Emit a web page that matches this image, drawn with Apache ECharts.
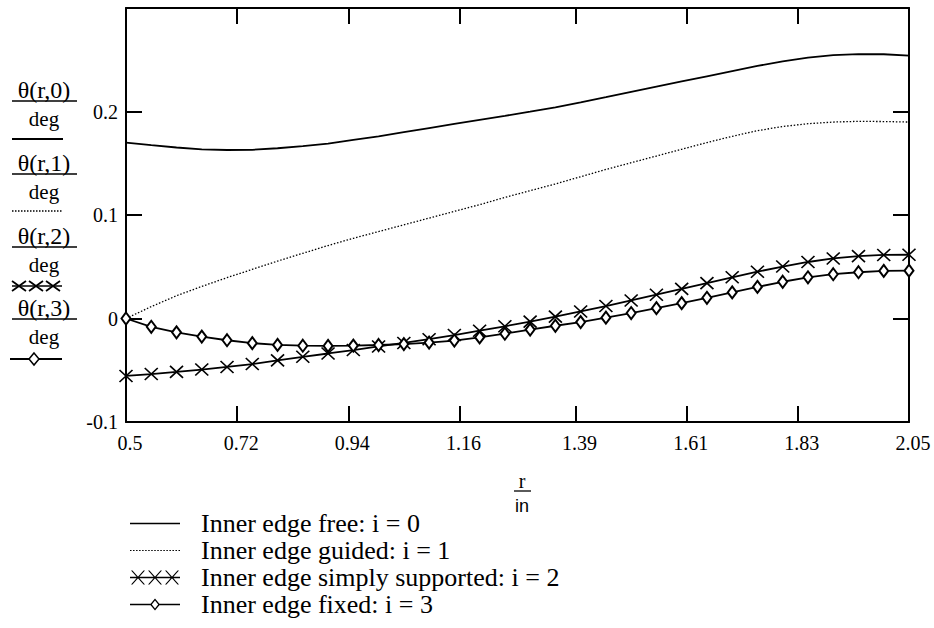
<!DOCTYPE html>
<html>
<head>
<meta charset="utf-8">
<title>θ(r,i) / deg</title>
<script src="https://cdn.jsdelivr.net/npm/echarts@6/dist/echarts.min.js"></script>
<style>
  html, body { margin: 0; padding: 0; background: #fff; }
  #chart { width: 934px; height: 628px; }
</style>
</head>
<body>
<div id="chart"></div>
<script>
// r / in
const rValues = [0.5, 0.55, 0.6, 0.65, 0.7, 0.75, 0.8, 0.85, 0.9, 0.95, 1.0, 1.05, 1.1, 1.15, 1.2, 1.25,
  1.3, 1.35, 1.4, 1.45, 1.5, 1.55, 1.6, 1.65, 1.7, 1.75, 1.8, 1.85, 1.9, 1.95, 2.0, 2.05];

// θ(r,i) / deg
const theta0 = [0.1700, 0.1675, 0.1652, 0.1635, 0.1628, 0.1630, 0.1645, 0.1665, 0.1690, 0.1725, 0.1760, 0.1800,
  0.1840, 0.1880, 0.1920, 0.1958, 0.1998, 0.2040, 0.2088, 0.2138, 0.2190, 0.2240, 0.2290, 0.2340, 0.2390, 0.2440,
  0.2485, 0.2520, 0.2545, 0.2555, 0.2553, 0.2540];
const theta1 = [0, 0.0115, 0.0220, 0.0310, 0.0395, 0.0475, 0.0555, 0.0630, 0.0705, 0.0775, 0.0840, 0.0905,
  0.0970, 0.1035, 0.1100, 0.1170, 0.1235, 0.1300, 0.1370, 0.1440, 0.1505, 0.1570, 0.1635, 0.1700, 0.1760, 0.1815,
  0.1855, 0.1882, 0.1898, 0.1905, 0.1903, 0.1898];
const theta2 = [-0.0555, -0.0537, -0.0516, -0.0493, -0.0468, -0.0440, -0.0405, -0.0370, -0.0338, -0.0305, -0.0270,
  -0.0236, -0.0200, -0.0160, -0.0118, -0.0075, -0.0030, 0.0018, 0.0068, 0.0120, 0.0174, 0.0230, 0.0286, 0.0342,
  0.0398, 0.0452, 0.0502, 0.0546, 0.0580, 0.0603, 0.0614, 0.0616];
const theta3 = [0, -0.0080, -0.0134, -0.0175, -0.0210, -0.0238, -0.0255, -0.0263, -0.0265, -0.0262, -0.0256,
  -0.0247, -0.0233, -0.0213, -0.0183, -0.0147, -0.0107, -0.0070, -0.0035, 0.0008, 0.0053, 0.0100, 0.0148, 0.0200,
  0.0252, 0.0305, 0.0355, 0.0398, 0.0428, 0.0447, 0.0460, 0.0462];

const xTicks = [0.5, 0.72, 0.94, 1.16, 1.39, 1.61, 1.83, 2.05];
const seriesNames = [
  'Inner edge free: i = 0',
  'Inner edge guided: i = 1',
  'Inner edge simply supported: i = 2',
  'Inner edge fixed: i = 3'
];
const yNames = ['θ(r,0)', 'θ(r,1)', 'θ(r,2)', 'θ(r,3)'];

const serif = '"Liberation Serif", "Times New Roman", serif';
const sans = '"Liberation Sans", Arial, sans-serif';

function pairs(ys) {
  return rValues.map((r, i) => [r, ys[i]]);
}

// legend icons, drawn in a 50 x 14 box
let dots = '';
for (let i = 0; i < 17; i++) {
  dots += 'M' + (i * 3) + ',6.4h1.5v1.2h-1.5Z';
}
let crosses = 'M0,6.3L50,6.3L50,7.7L0,7.7Z';
[8, 25, 42].forEach(c => {
  crosses += 'M' + (c - 7) + ',0L' + (c - 5.5) + ',0L' + (c + 7) + ',14L' + (c + 5.5) + ',14Z';
  crosses += 'M' + (c + 5.5) + ',0L' + (c + 7) + ',0L' + (c - 5.5) + ',14L' + (c - 7) + ',14Z';
});
const icons = [
  'path://M0,6.3L50,6.3L50,7.7L0,7.7Z',
  'path://' + dots,
  'path://' + crosses,
  'path://M0,6.3L20.6,6.3L20.6,7.7L0,7.7ZM29.4,6.3L50,6.3L50,7.7L29.4,7.7Z' +
    'M25,1L30,7L25,13L20,7ZM25,3L21.8,7L25,11L28.2,7Z'
];

// Mathcad style axis labels on the left
function txt(str, x, y, size, family) {
  return {
    type: 'text', x: x, y: y,
    style: { text: str, font: size + 'px ' + (family || serif), fill: '#000',
      align: 'center', verticalAlign: 'middle', textAlign: 'center', textVerticalAlign: 'middle' }
  };
}
function ln(x1, y1, x2, y2, w, dash) {
  return {
    type: 'line', shape: { x1: x1, y1: y1, x2: x2, y2: y2 },
    style: { stroke: '#000', lineWidth: w || 1.5, lineDash: dash || null }
  };
}

const sideTop = [90, 163, 236, 308];
const sideSample = [139, 211, 286, 359];
const graphics = [];
yNames.forEach((name, i) => {
  graphics.push(txt(name, 44, sideTop[i], 24));
  graphics.push(ln(12, sideTop[i] + 11, 77, sideTop[i] + 11, 1.5));
  graphics.push(txt('deg', 44, sideTop[i] + 29, 21));
});
graphics.push(ln(12, sideSample[0], 63, sideSample[0], 2));
graphics.push(ln(12, sideSample[1], 62, sideSample[1], 1.3, [1.5, 1.5]));
graphics.push(ln(12, sideSample[2], 62, sideSample[2], 1.5));
[19, 36, 53].forEach(c => {
  graphics.push(ln(c - 7, sideSample[2] - 5, c + 7, sideSample[2] + 5, 1.8));
  graphics.push(ln(c + 7, sideSample[2] - 5, c - 7, sideSample[2] + 5, 1.8));
});
graphics.push(ln(10, sideSample[3], 62, sideSample[3], 1.8));
graphics.push({
  type: 'polygon',
  shape: { points: [[34, sideSample[3] - 6], [39, sideSample[3]], [34, sideSample[3] + 6], [29, sideSample[3]]] },
  style: { fill: '#fff', stroke: '#000', lineWidth: 1.5 }
});

// x axis name r / in
graphics.push(txt('r', 522, 481, 20));
graphics.push(ln(514, 491, 531, 491, 1.3));
graphics.push(txt('in', 522, 506, 18, sans));

const chart = echarts.init(document.getElementById('chart'), null, { renderer: 'svg' });

const axisLine = { show: true, onZero: false, lineStyle: { color: '#000', width: 2 } };
const axisTick = { show: true, inside: true, length: 16, lineStyle: { color: '#000', width: 2 } };

chart.setOption({
  animation: false,
  backgroundColor: '#fff',
  grid: { left: 126, right: 25, top: 8, bottom: 206 },
  graphic: { elements: graphics },
  legend: {
    orient: 'vertical',
    left: 125,
    top: 505,
    itemWidth: 50,
    itemHeight: 14,
    itemGap: 0,
    selectedMode: false,
    textStyle: { fontFamily: serif, fontSize: 26, color: '#000', lineHeight: 27, padding: [0, 0, 0, 16] },
    data: seriesNames.map((name, i) => ({
      name: name,
      icon: icons[i],
      itemStyle: { color: '#000', borderWidth: 0 }
    }))
  },
  xAxis: [
    {
      type: 'value', position: 'bottom', min: 0.5, max: 2.05,
      axisLine: axisLine,
      axisTick: Object.assign({}, axisTick, { customValues: xTicks }),
      axisLabel: {
        customValues: xTicks,
        formatter: v => String(Number(v.toFixed(2))),
        fontFamily: serif, fontSize: 20, color: '#000', margin: 11, padding: [0, 0, 0, 8]
      },
      splitLine: { show: false }
    },
    {
      type: 'value', position: 'top', min: 0.5, max: 2.05,
      axisLine: axisLine,
      axisTick: Object.assign({}, axisTick, { customValues: xTicks }),
      axisLabel: { show: false },
      splitLine: { show: false }
    }
  ],
  yAxis: [
    {
      type: 'value', position: 'left', min: -0.1, max: 0.3, interval: 0.1,
      axisLine: axisLine,
      axisTick: axisTick,
      axisLabel: {
        formatter: v => (Math.abs(v - 0.3) < 1e-9 ? '' : String(Number(v.toFixed(1)))),
        fontFamily: serif, fontSize: 20, color: '#000', margin: 8, padding: [8, 0, 0, 0]
      },
      splitLine: { show: false }
    },
    {
      type: 'value', position: 'right', min: -0.1, max: 0.3, interval: 0.1,
      axisLine: axisLine,
      axisTick: axisTick,
      axisLabel: { show: false },
      splitLine: { show: false }
    }
  ],
  series: [
    {
      name: seriesNames[0], type: 'line', data: pairs(theta0),
      symbol: 'none', lineStyle: { color: '#000', width: 1.8 }, itemStyle: { color: '#000' }
    },
    {
      name: seriesNames[1], type: 'line', data: pairs(theta1),
      symbol: 'none', lineStyle: { color: '#000', width: 1.3, type: [1.5, 1.8] }, itemStyle: { color: '#000' }
    },
    {
      name: seriesNames[2], type: 'line', data: pairs(theta2),
      symbol: 'path://M0,0L10,10M10,0L0,10', symbolSize: [13, 12], showAllSymbol: true,
      lineStyle: { color: '#000', width: 1.8 },
      itemStyle: { color: '#000', borderColor: '#000', borderWidth: 1.6 }
    },
    {
      name: seriesNames[3], type: 'line', data: pairs(theta3),
      symbol: 'emptyDiamond', symbolSize: [9, 12], showAllSymbol: true,
      lineStyle: { color: '#000', width: 1.8 },
      itemStyle: { color: '#000', borderColor: '#000', borderWidth: 1.5 }
    }
  ]
});
</script>
</body>
</html>
